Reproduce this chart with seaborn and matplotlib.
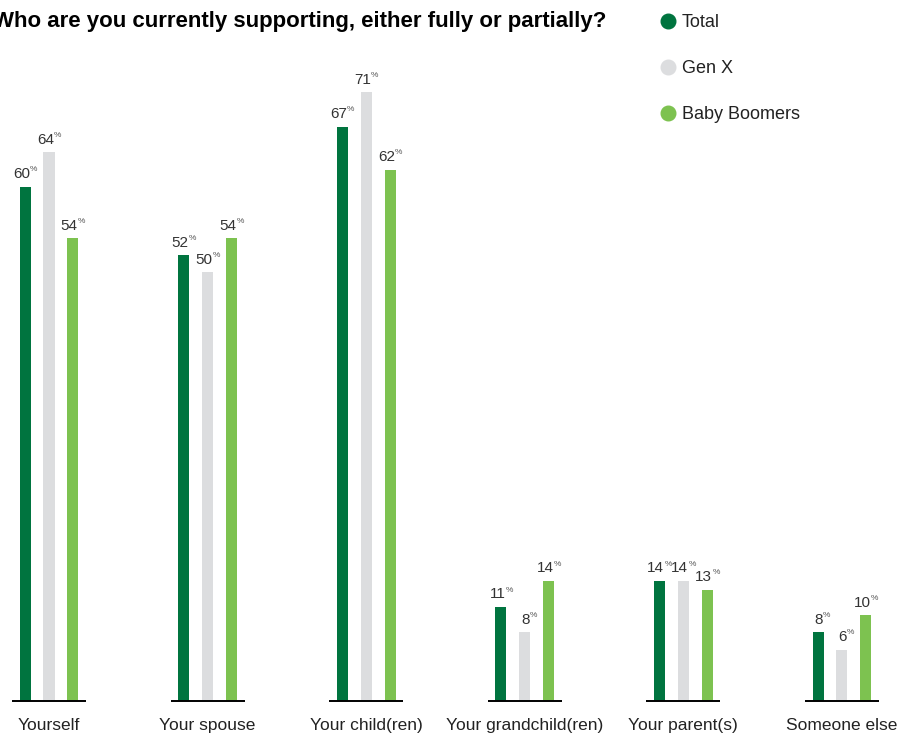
import matplotlib.pyplot as plt
from matplotlib.lines import Line2D
import pandas as pd
import seaborn as sns

# data
categories = ["Yourself", "Your spouse", "Your child(ren)",
              "Your grandchild(ren)", "Your parent(s)", "Someone else"]
groups = ["Total", "Gen X", "Baby Boomers"]
total = [60, 52, 67, 11, 14, 8]
gen_x = [64, 50, 71, 8, 14, 6]
boomers = [54, 54, 62, 14, 13, 10]
title = "Who are you currently supporting, either fully or partially?"

colors = ["#00743f", "#dcdddf", "#7dc250"]

df = pd.DataFrame({
    "category": categories * 3,
    "group": [g for g in groups for _ in categories],
    "value": total + gen_x + boomers,
})

sns.set_style("white")
plt.rcParams["font.family"] = ["Liberation Sans", "DejaVu Sans"]

fig = plt.figure(figsize=(9, 7.35), dpi=100)
ax = fig.add_axes([0, 34 / 735, 1, 0.933])

sns.barplot(data=df, x="category", y="value", hue="group", order=categories,
            hue_order=groups, palette=colors, saturation=1, width=0.453,
            gap=0.54, linewidth=0, ax=ax, legend=False)

ax.set_xlim(-0.309, 5.366)
ax.set_ylim(0, 80)
for s in ax.spines.values():
    s.set_visible(False)
ax.set_yticks([])
ax.set_xlabel("")
ax.set_ylabel("")
ax.tick_params(axis="x", length=0, pad=12.5, labelsize=12.5, labelcolor="#222222")

# short baseline under every group
for i in range(len(categories)):
    ax.hlines(0, i - 0.233, i + 0.233, color="black", lw=1.4, clip_on=False)

# value labels: number plus small raised %
for cont in ax.containers:
    for bar, v in zip(cont, cont.datavalues):
        cx = bar.get_x() + bar.get_width() / 2
        ax.annotate(f"{int(v)}", (cx, v), xytext=(3.5, 4), textcoords="offset points",
                    ha="right", va="bottom", fontsize=11, color="#333333")
        ax.annotate("%", (cx, v), xytext=(3.6, 9.5), textcoords="offset points",
                    ha="left", va="bottom", fontsize=6, color="#555555")

# title
fig.text(606 / 900, 1 - 27 / 735, title, ha="right", va="baseline",
         fontsize=16, fontweight="bold", color="black")

# legend
handles = [Line2D([], [], marker="o", ls="", markersize=10.5, color=c)
           for c in colors]
fig.legend(handles, groups, loc="upper left",
           bbox_to_anchor=(641 / 900, 1 + 2 / 735), frameon=False,
           fontsize=13, labelspacing=1.6, handletextpad=0.15,
           handlelength=1.2, labelcolor="#222222")

fig.savefig("out.png", dpi=100)
